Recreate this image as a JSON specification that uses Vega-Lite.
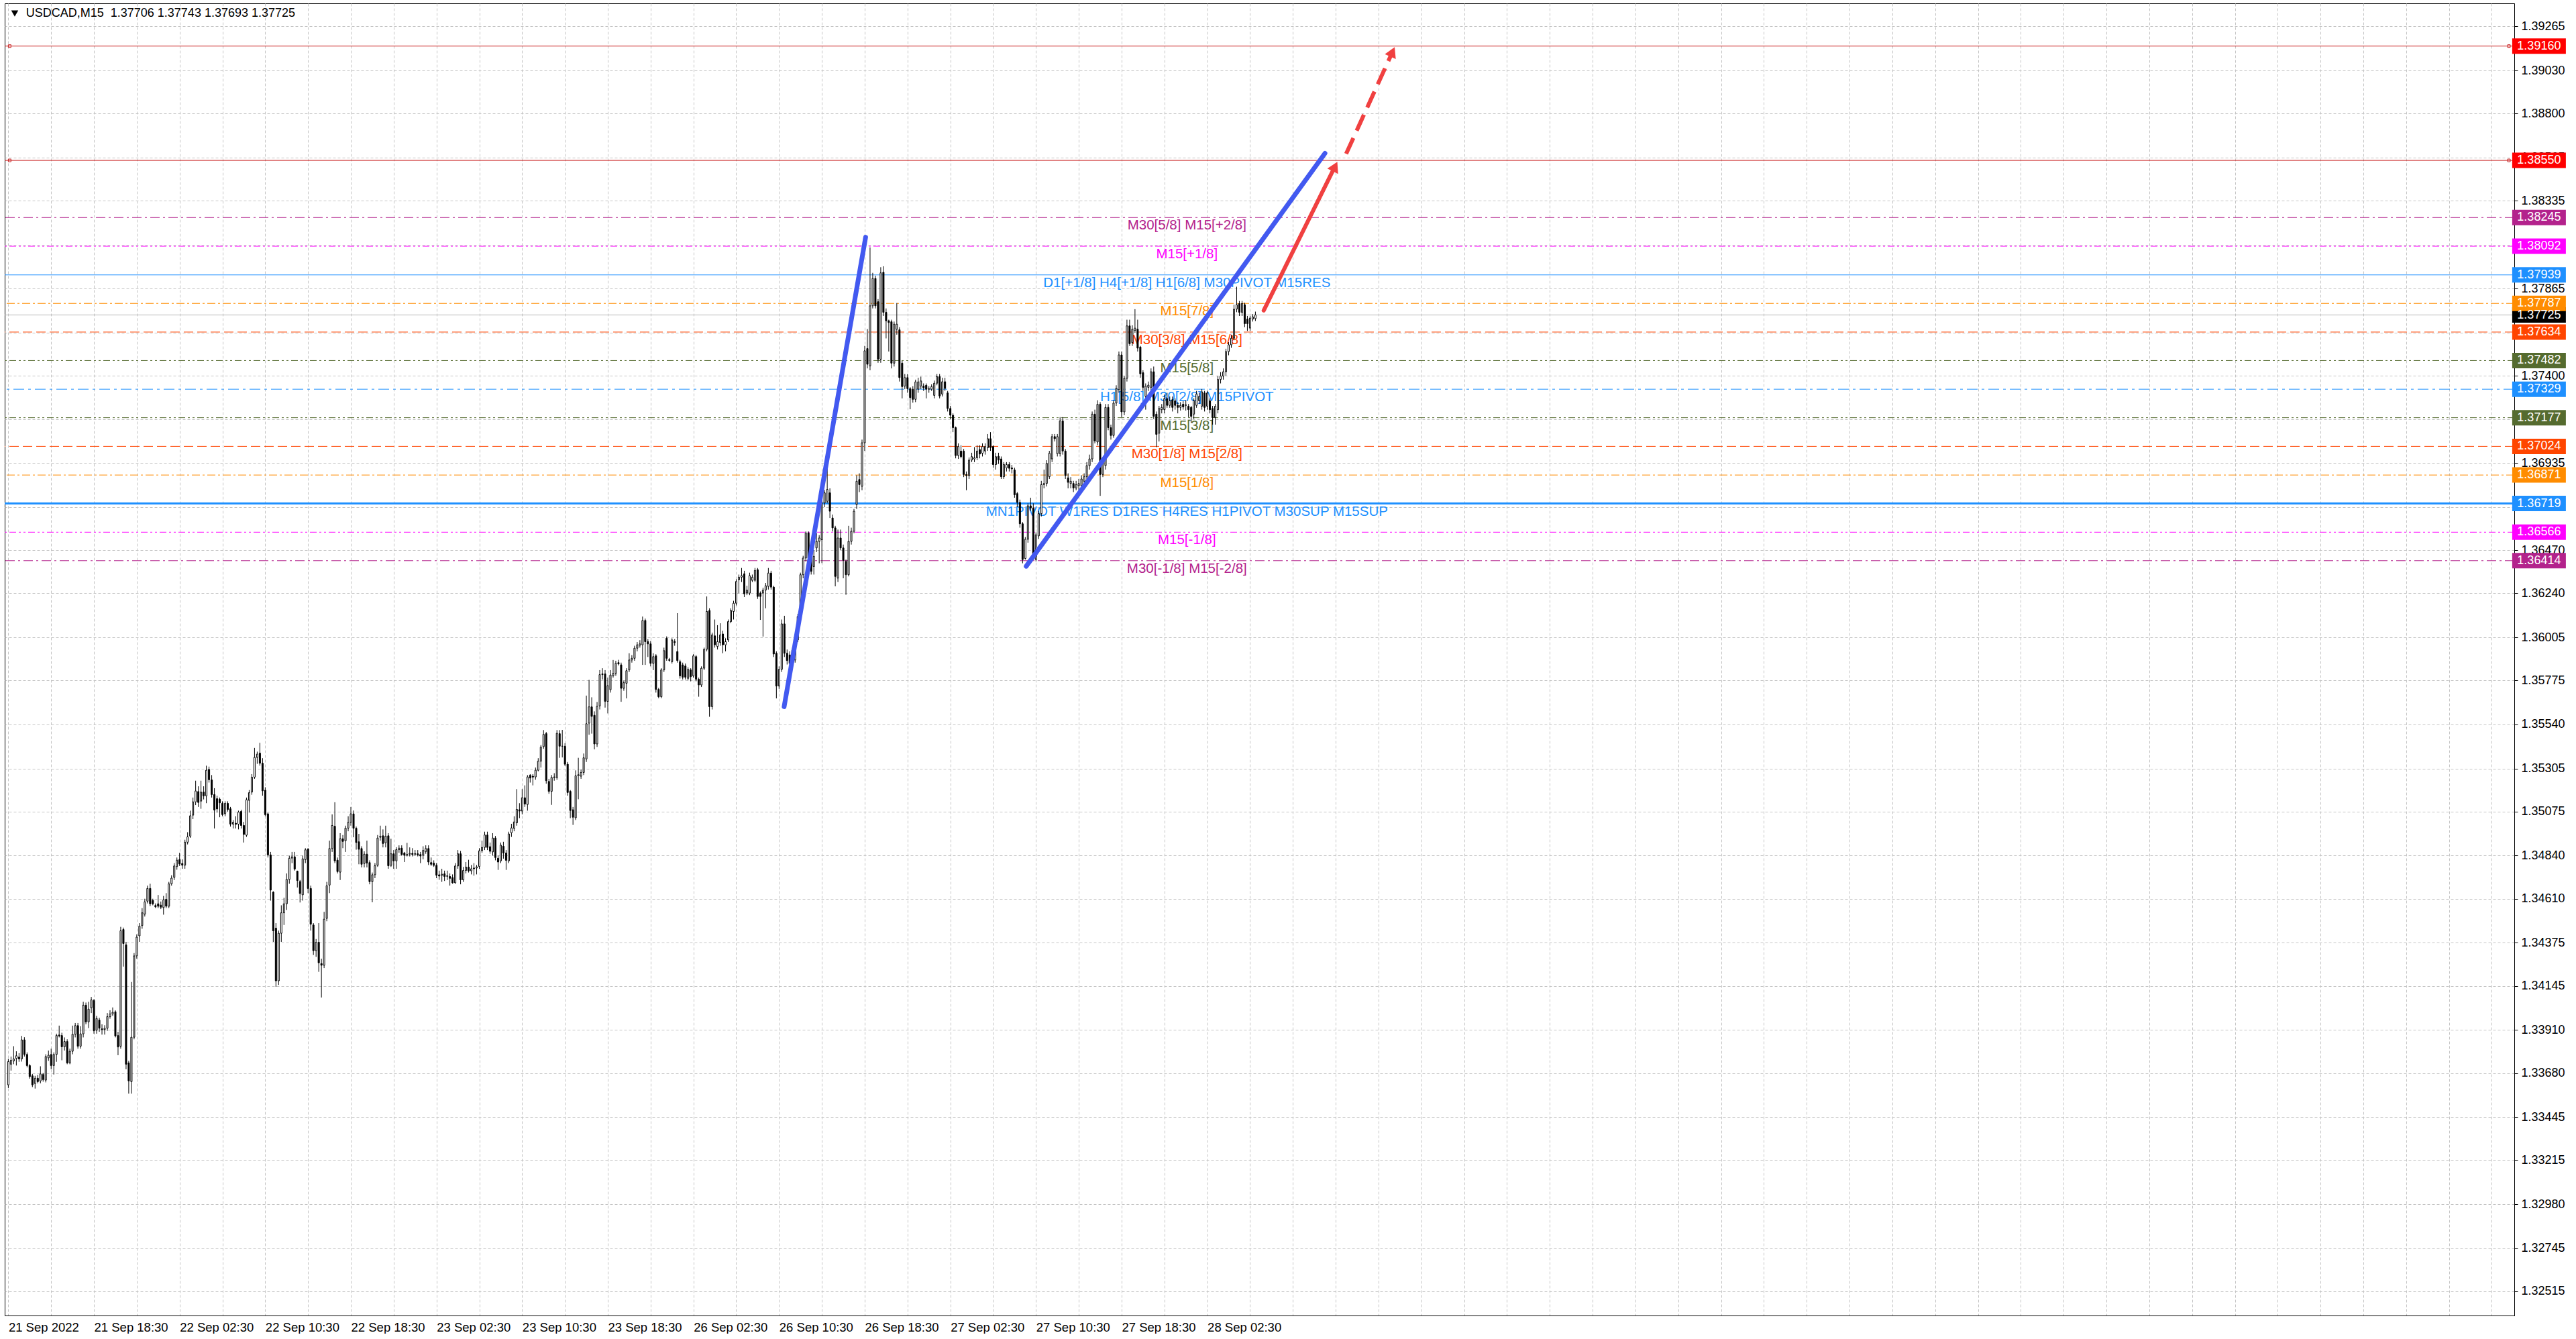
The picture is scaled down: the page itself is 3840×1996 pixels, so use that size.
{
"$schema":"https://vega.github.io/schema/vega-lite/v6.json",
"width":3741,"height":1956,
"padding":{"left":5,"top":5,"right":0,"bottom":0},
"background":"#ffffff",
"config":{"font":"Liberation Sans","view":{"stroke":"#000000","strokeWidth":1}},
"datasets":{
"levels":[
{"p":1.39160,"band":"target","label":""},
{"p":1.38550,"band":"target","label":""},
{"p":1.38245,"band":"outer2","label":"M30[5/8] M15[+2/8]"},
{"p":1.38092,"band":"outer1","label":"M15[+1/8]"},
{"p":1.37939,"band":"limit","label":"D1[+1/8] H4[+1/8] H1[6/8] M30PIVOT M15RES"},
{"p":1.37725,"band":"last","label":""},
{"p":1.37787,"band":"weak","label":"M15[7/8]"},
{"p":1.37634,"band":"reverse","label":"M30[3/8] M15[6/8]"},
{"p":1.37482,"band":"mid","label":"M15[5/8]"},
{"p":1.37329,"band":"pivot","label":"H1[5/8] M30[2/8] M15PIVOT"},
{"p":1.37177,"band":"mid","label":"M15[3/8]"},
{"p":1.37024,"band":"reverse","label":"M30[1/8] M15[2/8]"},
{"p":1.36871,"band":"weak","label":"M15[1/8]"},
{"p":1.36719,"band":"limit","label":"MN1PIVOT W1RES D1RES H4RES H1PIVOT M30SUP M15SUP"},
{"p":1.36566,"band":"outer1","label":"M15[-1/8]"},
{"p":1.36414,"band":"outer2","label":"M30[-1/8] M15[-2/8]"}
],
"trend":[{"seg":"A","i":289.9,"p":1.35635},{"seg":"A","i":320.35,"p":1.3814},{"seg":"B","i":380.35,"p":1.36384},{"seg":"B","i":492.0,"p":1.38588}],
"arrows":[{"seg":"solid","i":469.1,"p":1.37749},{"seg":"solid","i":495.5,"p":1.38511},{"seg":"dash","i":499.9,"p":1.38585},{"seg":"dash","i":517.0,"p":1.39122}],
"heads":[{"seg":"solid","i":495.74,"p":1.38517},{"seg":"dash","i":517.22,"p":1.39129}],
"header":[{"i":6.6,"ti":2.4,"p":1.39334,"label":"USDCAD,M15\u00a0 1.37706 1.37743 1.37693 1.37725"}],
"candles":[
{"i":0,"o":1.33617,"h":1.33755,"l":1.33600,"c":1.33741},
{"i":1,"o":1.33727,"h":1.33768,"l":1.33693,"c":1.33748},
{"i":2,"o":1.33744,"h":1.33823,"l":1.33727,"c":1.33755},
{"i":3,"o":1.33758,"h":1.33796,"l":1.33720,"c":1.33772},
{"i":4,"o":1.33765,"h":1.33786,"l":1.33740,"c":1.33755},
{"i":5,"o":1.33755,"h":1.33878,"l":1.33741,"c":1.33857},
{"i":6,"o":1.33857,"h":1.33871,"l":1.33768,"c":1.33779},
{"i":7,"o":1.33779,"h":1.33790,"l":1.33710,"c":1.33720},
{"i":8,"o":1.33720,"h":1.33727,"l":1.33650,"c":1.33661},
{"i":9,"o":1.33665,"h":1.33675,"l":1.33605,"c":1.33617},
{"i":10,"o":1.33624,"h":1.33665,"l":1.33597,"c":1.33652},
{"i":11,"o":1.33652,"h":1.33670,"l":1.33625,"c":1.33634},
{"i":12,"o":1.33638,"h":1.33716,"l":1.33625,"c":1.33675},
{"i":13,"o":1.33672,"h":1.33680,"l":1.33634,"c":1.33645},
{"i":14,"o":1.33642,"h":1.33780,"l":1.33630,"c":1.33768},
{"i":15,"o":1.33761,"h":1.33800,"l":1.33745,"c":1.33775},
{"i":16,"o":1.33779,"h":1.33810,"l":1.33700,"c":1.33720},
{"i":17,"o":1.33720,"h":1.33790,"l":1.33672,"c":1.33779},
{"i":18,"o":1.33779,"h":1.33890,"l":1.33740,"c":1.33880},
{"i":19,"o":1.33883,"h":1.33933,"l":1.33870,"c":1.33878},
{"i":20,"o":1.33880,"h":1.33895,"l":1.33748,"c":1.33820},
{"i":21,"o":1.33820,"h":1.33870,"l":1.33800,"c":1.33848},
{"i":22,"o":1.33848,"h":1.33860,"l":1.33727,"c":1.33734},
{"i":23,"o":1.33734,"h":1.33810,"l":1.33727,"c":1.33796},
{"i":24,"o":1.33796,"h":1.33933,"l":1.33780,"c":1.33887},
{"i":25,"o":1.33887,"h":1.33947,"l":1.33870,"c":1.33933},
{"i":26,"o":1.33933,"h":1.33947,"l":1.33810,"c":1.33823},
{"i":27,"o":1.33823,"h":1.33930,"l":1.33810,"c":1.33889},
{"i":28,"o":1.33889,"h":1.34060,"l":1.33870,"c":1.34042},
{"i":29,"o":1.34042,"h":1.34056,"l":1.33940,"c":1.33953},
{"i":30,"o":1.33953,"h":1.34060,"l":1.33920,"c":1.34021},
{"i":31,"o":1.34028,"h":1.34086,"l":1.34000,"c":1.34070},
{"i":32,"o":1.34067,"h":1.34075,"l":1.33890,"c":1.33905},
{"i":33,"o":1.33908,"h":1.33985,"l":1.33890,"c":1.33971},
{"i":34,"o":1.33963,"h":1.33975,"l":1.33900,"c":1.33919},
{"i":35,"o":1.33916,"h":1.33940,"l":1.33885,"c":1.33911},
{"i":36,"o":1.33912,"h":1.33935,"l":1.33885,"c":1.33919},
{"i":37,"o":1.33919,"h":1.34000,"l":1.33905,"c":1.33981},
{"i":38,"o":1.33981,"h":1.34015,"l":1.33970,"c":1.33995},
{"i":39,"o":1.33995,"h":1.34030,"l":1.33985,"c":1.34004},
{"i":40,"o":1.34007,"h":1.34015,"l":1.33870,"c":1.33878},
{"i":41,"o":1.33880,"h":1.33900,"l":1.33775,"c":1.33819},
{"i":42,"o":1.33823,"h":1.34460,"l":1.33810,"c":1.34439},
{"i":43,"o":1.34446,"h":1.34456,"l":1.34248,"c":1.34371},
{"i":44,"o":1.34364,"h":1.34380,"l":1.33700,"c":1.33727},
{"i":45,"o":1.33734,"h":1.33745,"l":1.33570,"c":1.33638},
{"i":46,"o":1.33634,"h":1.34166,"l":1.33570,"c":1.33871},
{"i":47,"o":1.33871,"h":1.34320,"l":1.33860,"c":1.34305},
{"i":48,"o":1.34305,"h":1.34420,"l":1.34290,"c":1.34405},
{"i":49,"o":1.34412,"h":1.34480,"l":1.34380,"c":1.34464},
{"i":50,"o":1.34467,"h":1.34560,"l":1.34450,"c":1.34535},
{"i":51,"o":1.34528,"h":1.34610,"l":1.34515,"c":1.34593},
{"i":52,"o":1.34597,"h":1.34680,"l":1.34585,"c":1.34665},
{"i":53,"o":1.34665,"h":1.34690,"l":1.34570,"c":1.34583},
{"i":54,"o":1.34601,"h":1.34610,"l":1.34575,"c":1.34583},
{"i":55,"o":1.34574,"h":1.34585,"l":1.34560,"c":1.34567},
{"i":56,"o":1.34583,"h":1.34630,"l":1.34560,"c":1.34570},
{"i":57,"o":1.34576,"h":1.34595,"l":1.34555,"c":1.34565},
{"i":58,"o":1.34563,"h":1.34625,"l":1.34525,"c":1.34604},
{"i":59,"o":1.34607,"h":1.34640,"l":1.34560,"c":1.34570},
{"i":60,"o":1.34570,"h":1.34700,"l":1.34560,"c":1.34689},
{"i":61,"o":1.34690,"h":1.34735,"l":1.34680,"c":1.34720},
{"i":62,"o":1.34724,"h":1.34800,"l":1.34710,"c":1.34785},
{"i":63,"o":1.34782,"h":1.34830,"l":1.34765,"c":1.34816},
{"i":64,"o":1.34819,"h":1.34855,"l":1.34785,"c":1.34796},
{"i":65,"o":1.34798,"h":1.34820,"l":1.34770,"c":1.34789},
{"i":66,"o":1.34789,"h":1.34925,"l":1.34770,"c":1.34912},
{"i":67,"o":1.34912,"h":1.34965,"l":1.34900,"c":1.34940},
{"i":68,"o":1.34944,"h":1.35080,"l":1.34935,"c":1.35053},
{"i":69,"o":1.35056,"h":1.35150,"l":1.35035,"c":1.35127},
{"i":70,"o":1.35127,"h":1.35240,"l":1.35110,"c":1.35185},
{"i":71,"o":1.35182,"h":1.35210,"l":1.35100,"c":1.35124},
{"i":72,"o":1.35131,"h":1.35240,"l":1.35090,"c":1.35179},
{"i":73,"o":1.35179,"h":1.35210,"l":1.35140,"c":1.35159},
{"i":74,"o":1.35159,"h":1.35320,"l":1.35120,"c":1.35296},
{"i":75,"o":1.35300,"h":1.35315,"l":1.35230,"c":1.35245},
{"i":76,"o":1.35244,"h":1.35270,"l":1.35150,"c":1.35166},
{"i":77,"o":1.35166,"h":1.35200,"l":1.34985,"c":1.35083},
{"i":78,"o":1.35144,"h":1.35160,"l":1.35070,"c":1.35089},
{"i":79,"o":1.35141,"h":1.35150,"l":1.35045,"c":1.35122},
{"i":80,"o":1.35119,"h":1.35130,"l":1.35050,"c":1.35059},
{"i":81,"o":1.35063,"h":1.35130,"l":1.35050,"c":1.35119},
{"i":82,"o":1.35119,"h":1.35130,"l":1.35075,"c":1.35086},
{"i":83,"o":1.35090,"h":1.35100,"l":1.34995,"c":1.35008},
{"i":84,"o":1.35008,"h":1.35030,"l":1.34985,"c":1.35018},
{"i":85,"o":1.35013,"h":1.35050,"l":1.34985,"c":1.35007},
{"i":86,"o":1.35008,"h":1.35080,"l":1.34980,"c":1.35072},
{"i":87,"o":1.35076,"h":1.35085,"l":1.34985,"c":1.35001},
{"i":88,"o":1.35001,"h":1.35020,"l":1.34910,"c":1.34953},
{"i":89,"o":1.34949,"h":1.35150,"l":1.34940,"c":1.35138},
{"i":90,"o":1.35135,"h":1.35190,"l":1.35070,"c":1.35176},
{"i":91,"o":1.35179,"h":1.35275,"l":1.35165,"c":1.35259},
{"i":92,"o":1.35259,"h":1.35415,"l":1.35250,"c":1.35364},
{"i":93,"o":1.35364,"h":1.35395,"l":1.35330,"c":1.35382},
{"i":94,"o":1.35387,"h":1.35442,"l":1.35320,"c":1.35333},
{"i":95,"o":1.35333,"h":1.35360,"l":1.35160,"c":1.35186},
{"i":96,"o":1.35189,"h":1.35205,"l":1.35050,"c":1.35059},
{"i":97,"o":1.35063,"h":1.35070,"l":1.34830,"c":1.34844},
{"i":98,"o":1.34844,"h":1.34860,"l":1.34600,"c":1.34656},
{"i":99,"o":1.34645,"h":1.34650,"l":1.34380,"c":1.34439},
{"i":100,"o":1.34453,"h":1.34480,"l":1.34140,"c":1.34172},
{"i":101,"o":1.34172,"h":1.34440,"l":1.34150,"c":1.34426},
{"i":102,"o":1.34426,"h":1.34575,"l":1.34380,"c":1.34535},
{"i":103,"o":1.34535,"h":1.34615,"l":1.34470,"c":1.34583},
{"i":104,"o":1.34583,"h":1.34745,"l":1.34550,"c":1.34713},
{"i":105,"o":1.34713,"h":1.34840,"l":1.34690,"c":1.34826},
{"i":106,"o":1.34827,"h":1.34860,"l":1.34800,"c":1.34834},
{"i":107,"o":1.34834,"h":1.34860,"l":1.34760,"c":1.34768},
{"i":108,"o":1.34757,"h":1.34760,"l":1.34670,"c":1.34707},
{"i":109,"o":1.34702,"h":1.34710,"l":1.34590,"c":1.34638},
{"i":110,"o":1.34631,"h":1.34840,"l":1.34600,"c":1.34823},
{"i":111,"o":1.34819,"h":1.34880,"l":1.34800,"c":1.34871},
{"i":112,"o":1.34875,"h":1.34880,"l":1.34640,"c":1.34665},
{"i":113,"o":1.34665,"h":1.34680,"l":1.34440,"c":1.34474},
{"i":114,"o":1.34470,"h":1.34480,"l":1.34310,"c":1.34333},
{"i":115,"o":1.34333,"h":1.34395,"l":1.34300,"c":1.34378},
{"i":116,"o":1.34378,"h":1.34480,"l":1.34220,"c":1.34268},
{"i":117,"o":1.34264,"h":1.34290,"l":1.34083,"c":1.34255},
{"i":118,"o":1.34255,"h":1.34540,"l":1.34240,"c":1.34501},
{"i":119,"o":1.34505,"h":1.34700,"l":1.34490,"c":1.34679},
{"i":120,"o":1.34683,"h":1.34920,"l":1.34640,"c":1.34878},
{"i":121,"o":1.34878,"h":1.35060,"l":1.34860,"c":1.35001},
{"i":122,"o":1.34997,"h":1.35125,"l":1.34800,"c":1.34812},
{"i":123,"o":1.34816,"h":1.34830,"l":1.34745,"c":1.34755},
{"i":124,"o":1.34752,"h":1.34960,"l":1.34710,"c":1.34930},
{"i":125,"o":1.34930,"h":1.34950,"l":1.34880,"c":1.34916},
{"i":126,"o":1.34919,"h":1.35000,"l":1.34860,"c":1.34987},
{"i":127,"o":1.34987,"h":1.35050,"l":1.34970,"c":1.35018},
{"i":128,"o":1.35018,"h":1.35100,"l":1.35000,"c":1.35063},
{"i":129,"o":1.35063,"h":1.35081,"l":1.34938,"c":1.34986},
{"i":130,"o":1.34986,"h":1.34995,"l":1.34872,"c":1.34910},
{"i":131,"o":1.34914,"h":1.34956,"l":1.34794,"c":1.34874},
{"i":132,"o":1.34878,"h":1.34890,"l":1.34777,"c":1.34794},
{"i":133,"o":1.34798,"h":1.34863,"l":1.34777,"c":1.34848},
{"i":134,"o":1.34848,"h":1.34920,"l":1.34777,"c":1.34800},
{"i":135,"o":1.34803,"h":1.34815,"l":1.34687,"c":1.34701},
{"i":136,"o":1.34701,"h":1.34750,"l":1.34591,"c":1.34738},
{"i":137,"o":1.34738,"h":1.34800,"l":1.34720,"c":1.34786},
{"i":138,"o":1.34788,"h":1.34950,"l":1.34780,"c":1.34934},
{"i":139,"o":1.34938,"h":1.35000,"l":1.34920,"c":1.34944},
{"i":140,"o":1.34946,"h":1.34980,"l":1.34884,"c":1.34905},
{"i":141,"o":1.34908,"h":1.35000,"l":1.34884,"c":1.34944},
{"i":142,"o":1.34946,"h":1.34960,"l":1.34770,"c":1.34786},
{"i":143,"o":1.34788,"h":1.34930,"l":1.34780,"c":1.34850},
{"i":144,"o":1.34850,"h":1.34870,"l":1.34770,"c":1.34812},
{"i":145,"o":1.34812,"h":1.34885,"l":1.34770,"c":1.34872},
{"i":146,"o":1.34872,"h":1.34895,"l":1.34855,"c":1.34880},
{"i":147,"o":1.34880,"h":1.34895,"l":1.34840,"c":1.34846},
{"i":148,"o":1.34854,"h":1.34860,"l":1.34806,"c":1.34842},
{"i":149,"o":1.34846,"h":1.34908,"l":1.34836,"c":1.34842},
{"i":150,"o":1.34848,"h":1.34884,"l":1.34836,"c":1.34852},
{"i":151,"o":1.34852,"h":1.34880,"l":1.34836,"c":1.34846},
{"i":152,"o":1.34850,"h":1.34870,"l":1.34840,"c":1.34848},
{"i":153,"o":1.34850,"h":1.34870,"l":1.34836,"c":1.34844},
{"i":154,"o":1.34846,"h":1.34860,"l":1.34800,"c":1.34838},
{"i":155,"o":1.34842,"h":1.34890,"l":1.34820,"c":1.34868},
{"i":156,"o":1.34862,"h":1.34895,"l":1.34850,"c":1.34878},
{"i":157,"o":1.34878,"h":1.34895,"l":1.34790,"c":1.34806},
{"i":158,"o":1.34803,"h":1.34830,"l":1.34785,"c":1.34794},
{"i":159,"o":1.34800,"h":1.34815,"l":1.34780,"c":1.34788},
{"i":160,"o":1.34788,"h":1.34800,"l":1.34720,"c":1.34735},
{"i":161,"o":1.34738,"h":1.34760,"l":1.34711,"c":1.34731},
{"i":162,"o":1.34735,"h":1.34770,"l":1.34700,"c":1.34741},
{"i":163,"o":1.34743,"h":1.34760,"l":1.34705,"c":1.34729},
{"i":164,"o":1.34732,"h":1.34760,"l":1.34710,"c":1.34730},
{"i":165,"o":1.34729,"h":1.34745,"l":1.34680,"c":1.34719},
{"i":166,"o":1.34723,"h":1.34740,"l":1.34690,"c":1.34695},
{"i":167,"o":1.34695,"h":1.34800,"l":1.34690,"c":1.34785},
{"i":168,"o":1.34785,"h":1.34870,"l":1.34770,"c":1.34850},
{"i":169,"o":1.34850,"h":1.34865,"l":1.34687,"c":1.34711},
{"i":170,"o":1.34711,"h":1.34780,"l":1.34700,"c":1.34761},
{"i":171,"o":1.34761,"h":1.34806,"l":1.34745,"c":1.34779},
{"i":172,"o":1.34779,"h":1.34818,"l":1.34750,"c":1.34759},
{"i":173,"o":1.34759,"h":1.34790,"l":1.34740,"c":1.34770},
{"i":174,"o":1.34774,"h":1.34800,"l":1.34733,"c":1.34770},
{"i":175,"o":1.34774,"h":1.34790,"l":1.34740,"c":1.34780},
{"i":176,"o":1.34782,"h":1.34880,"l":1.34770,"c":1.34866},
{"i":177,"o":1.34866,"h":1.34920,"l":1.34855,"c":1.34884},
{"i":178,"o":1.34884,"h":1.34968,"l":1.34870,"c":1.34950},
{"i":179,"o":1.34950,"h":1.34968,"l":1.34870,"c":1.34884},
{"i":180,"o":1.34888,"h":1.34910,"l":1.34850,"c":1.34863},
{"i":181,"o":1.34860,"h":1.34960,"l":1.34840,"c":1.34934},
{"i":182,"o":1.34934,"h":1.34945,"l":1.34815,"c":1.34830},
{"i":183,"o":1.34826,"h":1.34840,"l":1.34764,"c":1.34806},
{"i":184,"o":1.34812,"h":1.34910,"l":1.34800,"c":1.34896},
{"i":185,"o":1.34890,"h":1.34914,"l":1.34824,"c":1.34854},
{"i":186,"o":1.34854,"h":1.34870,"l":1.34764,"c":1.34815},
{"i":187,"o":1.34812,"h":1.34968,"l":1.34800,"c":1.34956},
{"i":188,"o":1.34962,"h":1.35010,"l":1.34940,"c":1.34988},
{"i":189,"o":1.34986,"h":1.35050,"l":1.34970,"c":1.35020},
{"i":190,"o":1.35015,"h":1.35195,"l":1.35000,"c":1.35087},
{"i":191,"o":1.35085,"h":1.35120,"l":1.35040,"c":1.35078},
{"i":192,"o":1.35078,"h":1.35195,"l":1.35060,"c":1.35149},
{"i":193,"o":1.35149,"h":1.35215,"l":1.35100,"c":1.35115},
{"i":194,"o":1.35113,"h":1.35270,"l":1.35080,"c":1.35260},
{"i":195,"o":1.35269,"h":1.35275,"l":1.35230,"c":1.35254},
{"i":196,"o":1.35264,"h":1.35275,"l":1.35215,"c":1.35259},
{"i":197,"o":1.35260,"h":1.35310,"l":1.35245,"c":1.35296},
{"i":198,"o":1.35296,"h":1.35360,"l":1.35290,"c":1.35344},
{"i":199,"o":1.35344,"h":1.35430,"l":1.35310,"c":1.35419},
{"i":200,"o":1.35422,"h":1.35510,"l":1.35410,"c":1.35487},
{"i":201,"o":1.35491,"h":1.35500,"l":1.35224,"c":1.35240},
{"i":202,"o":1.35236,"h":1.35250,"l":1.35170,"c":1.35183},
{"i":203,"o":1.35183,"h":1.35270,"l":1.35111,"c":1.35257},
{"i":204,"o":1.35256,"h":1.35280,"l":1.35240,"c":1.35260},
{"i":205,"o":1.35257,"h":1.35510,"l":1.35245,"c":1.35493},
{"i":206,"o":1.35491,"h":1.35510,"l":1.35362,"c":1.35424},
{"i":207,"o":1.35424,"h":1.35511,"l":1.35364,"c":1.35424},
{"i":208,"o":1.35424,"h":1.35440,"l":1.35318,"c":1.35328},
{"i":209,"o":1.35328,"h":1.35340,"l":1.35160,"c":1.35177},
{"i":210,"o":1.35183,"h":1.35190,"l":1.35040,"c":1.35081},
{"i":211,"o":1.35085,"h":1.35100,"l":1.35004,"c":1.35045},
{"i":212,"o":1.35042,"h":1.35295,"l":1.35030,"c":1.35266},
{"i":213,"o":1.35266,"h":1.35362,"l":1.35141,"c":1.35272},
{"i":214,"o":1.35264,"h":1.35300,"l":1.35250,"c":1.35284},
{"i":215,"o":1.35284,"h":1.35385,"l":1.35270,"c":1.35362},
{"i":216,"o":1.35356,"h":1.35694,"l":1.35340,"c":1.35544},
{"i":217,"o":1.35547,"h":1.35778,"l":1.35485,"c":1.35634},
{"i":218,"o":1.35634,"h":1.35685,"l":1.35491,"c":1.35583},
{"i":219,"o":1.35589,"h":1.35610,"l":1.35407,"c":1.35436},
{"i":220,"o":1.35436,"h":1.35660,"l":1.35420,"c":1.35637},
{"i":221,"o":1.35639,"h":1.35830,"l":1.35620,"c":1.35806},
{"i":222,"o":1.35810,"h":1.35840,"l":1.35780,"c":1.35806},
{"i":223,"o":1.35810,"h":1.35830,"l":1.35630,"c":1.35663},
{"i":224,"o":1.35663,"h":1.35790,"l":1.35599,"c":1.35747},
{"i":225,"o":1.35725,"h":1.35830,"l":1.35710,"c":1.35804},
{"i":226,"o":1.35799,"h":1.35884,"l":1.35790,"c":1.35813},
{"i":227,"o":1.35813,"h":1.35880,"l":1.35800,"c":1.35867},
{"i":228,"o":1.35870,"h":1.35885,"l":1.35855,"c":1.35863},
{"i":229,"o":1.35858,"h":1.35870,"l":1.35661,"c":1.35733},
{"i":230,"o":1.35733,"h":1.35775,"l":1.35720,"c":1.35763},
{"i":231,"o":1.35760,"h":1.35840,"l":1.35679,"c":1.35827},
{"i":232,"o":1.35831,"h":1.35920,"l":1.35820,"c":1.35884},
{"i":233,"o":1.35884,"h":1.35910,"l":1.35870,"c":1.35893},
{"i":234,"o":1.35893,"h":1.35960,"l":1.35880,"c":1.35947},
{"i":235,"o":1.35947,"h":1.35980,"l":1.35930,"c":1.35965},
{"i":236,"o":1.35963,"h":1.35990,"l":1.35950,"c":1.35970},
{"i":237,"o":1.35965,"h":1.36116,"l":1.35858,"c":1.36095},
{"i":238,"o":1.36095,"h":1.36105,"l":1.35858,"c":1.35982},
{"i":239,"o":1.35982,"h":1.35995,"l":1.35900,"c":1.35970},
{"i":240,"o":1.35970,"h":1.35985,"l":1.35850,"c":1.35866},
{"i":241,"o":1.35866,"h":1.35920,"l":1.35830,"c":1.35902},
{"i":242,"o":1.35906,"h":1.35915,"l":1.35710,"c":1.35727},
{"i":243,"o":1.35727,"h":1.35735,"l":1.35680,"c":1.35688},
{"i":244,"o":1.35688,"h":1.35840,"l":1.35680,"c":1.35831},
{"i":245,"o":1.35831,"h":1.35950,"l":1.35820,"c":1.35934},
{"i":246,"o":1.36000,"h":1.36010,"l":1.35880,"c":1.35893},
{"i":247,"o":1.35886,"h":1.35895,"l":1.35875,"c":1.35882},
{"i":248,"o":1.35875,"h":1.36000,"l":1.35865,"c":1.35991},
{"i":249,"o":1.35982,"h":1.35995,"l":1.35960,"c":1.35977},
{"i":250,"o":1.35929,"h":1.36134,"l":1.35870,"c":1.35881},
{"i":251,"o":1.35875,"h":1.35885,"l":1.35785,"c":1.35799},
{"i":252,"o":1.35858,"h":1.35870,"l":1.35780,"c":1.35792},
{"i":253,"o":1.35852,"h":1.35865,"l":1.35780,"c":1.35792},
{"i":254,"o":1.35786,"h":1.35845,"l":1.35775,"c":1.35834},
{"i":255,"o":1.35831,"h":1.35840,"l":1.35770,"c":1.35795},
{"i":256,"o":1.35799,"h":1.35915,"l":1.35790,"c":1.35906},
{"i":257,"o":1.35902,"h":1.35910,"l":1.35770,"c":1.35781},
{"i":258,"o":1.35781,"h":1.35790,"l":1.35688,"c":1.35751},
{"i":259,"o":1.35751,"h":1.35850,"l":1.35740,"c":1.35840},
{"i":260,"o":1.35840,"h":1.35950,"l":1.35830,"c":1.35941},
{"i":261,"o":1.35941,"h":1.36223,"l":1.35930,"c":1.36143},
{"i":262,"o":1.36148,"h":1.36160,"l":1.35581,"c":1.35635},
{"i":263,"o":1.35635,"h":1.36030,"l":1.35620,"c":1.36018},
{"i":264,"o":1.36013,"h":1.36100,"l":1.35950,"c":1.35965},
{"i":265,"o":1.35956,"h":1.36070,"l":1.35940,"c":1.35982},
{"i":266,"o":1.35977,"h":1.36080,"l":1.35960,"c":1.36018},
{"i":267,"o":1.36023,"h":1.36040,"l":1.35920,"c":1.35965},
{"i":268,"o":1.35965,"h":1.36000,"l":1.35930,"c":1.35982},
{"i":269,"o":1.35991,"h":1.36100,"l":1.35980,"c":1.36089},
{"i":270,"o":1.36089,"h":1.36160,"l":1.36080,"c":1.36148},
{"i":271,"o":1.36143,"h":1.36200,"l":1.36100,"c":1.36187},
{"i":272,"o":1.36187,"h":1.36315,"l":1.36175,"c":1.36303},
{"i":273,"o":1.36312,"h":1.36340,"l":1.36240,"c":1.36326},
{"i":274,"o":1.36326,"h":1.36375,"l":1.36300,"c":1.36334},
{"i":275,"o":1.36344,"h":1.36360,"l":1.36220,"c":1.36237},
{"i":276,"o":1.36241,"h":1.36280,"l":1.36230,"c":1.36257},
{"i":277,"o":1.36241,"h":1.36350,"l":1.36230,"c":1.36334},
{"i":278,"o":1.36309,"h":1.36340,"l":1.36300,"c":1.36326},
{"i":279,"o":1.36309,"h":1.36375,"l":1.36300,"c":1.36362},
{"i":280,"o":1.36366,"h":1.36375,"l":1.36210,"c":1.36223},
{"i":281,"o":1.36241,"h":1.36250,"l":1.36098,"c":1.36223},
{"i":282,"o":1.36241,"h":1.36270,"l":1.36009,"c":1.36257},
{"i":283,"o":1.36257,"h":1.36295,"l":1.36160,"c":1.36280},
{"i":284,"o":1.36277,"h":1.36375,"l":1.36260,"c":1.36348},
{"i":285,"o":1.36348,"h":1.36360,"l":1.36260,"c":1.36273},
{"i":286,"o":1.36273,"h":1.36280,"l":1.35900,"c":1.35916},
{"i":287,"o":1.35920,"h":1.35930,"l":1.35679,"c":1.35745},
{"i":288,"o":1.35745,"h":1.35850,"l":1.35730,"c":1.35834},
{"i":289,"o":1.35834,"h":1.36100,"l":1.35820,"c":1.36077},
{"i":290,"o":1.36077,"h":1.36120,"l":1.35900,"c":1.35920},
{"i":291,"o":1.35920,"h":1.35940,"l":1.35860,"c":1.35881},
{"i":292,"o":1.35911,"h":1.35930,"l":1.35840,"c":1.35866},
{"i":293,"o":1.35866,"h":1.35950,"l":1.35850,"c":1.35938},
{"i":294,"o":1.35884,"h":1.36010,"l":1.35870,"c":1.36000},
{"i":295,"o":1.35991,"h":1.36130,"l":1.35980,"c":1.36116},
{"i":296,"o":1.36116,"h":1.36350,"l":1.36100,"c":1.36339},
{"i":297,"o":1.36339,"h":1.36440,"l":1.36320,"c":1.36428},
{"i":298,"o":1.36428,"h":1.36570,"l":1.36410,"c":1.36562},
{"i":299,"o":1.36562,"h":1.36570,"l":1.36410,"c":1.36428},
{"i":300,"o":1.36428,"h":1.36440,"l":1.36340,"c":1.36357},
{"i":301,"o":1.36383,"h":1.36470,"l":1.36340,"c":1.36437},
{"i":302,"o":1.36482,"h":1.36560,"l":1.36460,"c":1.36517},
{"i":303,"o":1.36517,"h":1.36550,"l":1.36400,"c":1.36535},
{"i":304,"o":1.36526,"h":1.36740,"l":1.36401,"c":1.36722},
{"i":305,"o":1.36722,"h":1.36790,"l":1.36700,"c":1.36776},
{"i":306,"o":1.36731,"h":1.36954,"l":1.36720,"c":1.36794},
{"i":307,"o":1.36776,"h":1.36800,"l":1.36642,"c":1.36678},
{"i":308,"o":1.36642,"h":1.36660,"l":1.36570,"c":1.36589},
{"i":309,"o":1.36589,"h":1.36600,"l":1.36277,"c":1.36330},
{"i":310,"o":1.36321,"h":1.36580,"l":1.36300,"c":1.36535},
{"i":311,"o":1.36535,"h":1.36580,"l":1.36470,"c":1.36482},
{"i":312,"o":1.36482,"h":1.36500,"l":1.36320,"c":1.36416},
{"i":313,"o":1.36410,"h":1.36420,"l":1.36232,"c":1.36339},
{"i":314,"o":1.36339,"h":1.36600,"l":1.36330,"c":1.36517},
{"i":315,"o":1.36517,"h":1.36590,"l":1.36500,"c":1.36571},
{"i":316,"o":1.36571,"h":1.36690,"l":1.36560,"c":1.36678},
{"i":317,"o":1.36713,"h":1.36870,"l":1.36690,"c":1.36838},
{"i":318,"o":1.36847,"h":1.36880,"l":1.36780,"c":1.36820},
{"i":319,"o":1.36811,"h":1.37060,"l":1.36790,"c":1.37043},
{"i":320,"o":1.37043,"h":1.37560,"l":1.37000,"c":1.37534},
{"i":321,"o":1.37546,"h":1.37650,"l":1.37440,"c":1.37462},
{"i":322,"o":1.37453,"h":1.38086,"l":1.37430,"c":1.37774},
{"i":323,"o":1.37774,"h":1.37950,"l":1.37760,"c":1.37920},
{"i":324,"o":1.37920,"h":1.37935,"l":1.37760,"c":1.37774},
{"i":325,"o":1.37796,"h":1.37810,"l":1.37470,"c":1.37489},
{"i":326,"o":1.37489,"h":1.37980,"l":1.37470,"c":1.37950},
{"i":327,"o":1.37953,"h":1.37985,"l":1.37720,"c":1.37739},
{"i":328,"o":1.37739,"h":1.37760,"l":1.37600,"c":1.37694},
{"i":329,"o":1.37694,"h":1.37700,"l":1.37530,"c":1.37685},
{"i":330,"o":1.37689,"h":1.37700,"l":1.37440,"c":1.37468},
{"i":331,"o":1.37468,"h":1.37690,"l":1.37450,"c":1.37676},
{"i":332,"o":1.37649,"h":1.37789,"l":1.37620,"c":1.37676},
{"i":333,"o":1.37646,"h":1.37660,"l":1.37370,"c":1.37391},
{"i":334,"o":1.37468,"h":1.37480,"l":1.37280,"c":1.37343},
{"i":335,"o":1.37346,"h":1.37410,"l":1.37330,"c":1.37391},
{"i":336,"o":1.37391,"h":1.37410,"l":1.37310,"c":1.37332},
{"i":337,"o":1.37332,"h":1.37340,"l":1.37222,"c":1.37284},
{"i":338,"o":1.37329,"h":1.37345,"l":1.37257,"c":1.37275},
{"i":339,"o":1.37275,"h":1.37380,"l":1.37260,"c":1.37368},
{"i":340,"o":1.37329,"h":1.37390,"l":1.37310,"c":1.37368},
{"i":341,"o":1.37346,"h":1.37396,"l":1.37330,"c":1.37373},
{"i":342,"o":1.37346,"h":1.37360,"l":1.37320,"c":1.37337},
{"i":343,"o":1.37350,"h":1.37360,"l":1.37280,"c":1.37329},
{"i":344,"o":1.37331,"h":1.37345,"l":1.37310,"c":1.37329},
{"i":345,"o":1.37329,"h":1.37355,"l":1.37320,"c":1.37343},
{"i":346,"o":1.37296,"h":1.37375,"l":1.37280,"c":1.37361},
{"i":347,"o":1.37361,"h":1.37410,"l":1.37350,"c":1.37396},
{"i":348,"o":1.37396,"h":1.37410,"l":1.37280,"c":1.37293},
{"i":349,"o":1.37303,"h":1.37390,"l":1.37290,"c":1.37369},
{"i":350,"o":1.37369,"h":1.37390,"l":1.37320,"c":1.37333},
{"i":351,"o":1.37309,"h":1.37320,"l":1.37210,"c":1.37226},
{"i":352,"o":1.37226,"h":1.37240,"l":1.37170,"c":1.37190},
{"i":353,"o":1.37190,"h":1.37200,"l":1.37100,"c":1.37124},
{"i":354,"o":1.37124,"h":1.37130,"l":1.36960,"c":1.36975},
{"i":355,"o":1.36975,"h":1.37040,"l":1.36957,"c":1.37023},
{"i":356,"o":1.36999,"h":1.37030,"l":1.36960,"c":1.36969},
{"i":357,"o":1.36999,"h":1.37010,"l":1.36860,"c":1.36874},
{"i":358,"o":1.36874,"h":1.36890,"l":1.36790,"c":1.36868},
{"i":359,"o":1.36868,"h":1.36965,"l":1.36850,"c":1.36951},
{"i":360,"o":1.36951,"h":1.36990,"l":1.36940,"c":1.36969},
{"i":361,"o":1.36957,"h":1.37020,"l":1.36940,"c":1.36963},
{"i":362,"o":1.36963,"h":1.37030,"l":1.36950,"c":1.36999},
{"i":363,"o":1.37007,"h":1.37030,"l":1.36960,"c":1.36983},
{"i":364,"o":1.36987,"h":1.37040,"l":1.36970,"c":1.37023},
{"i":365,"o":1.36999,"h":1.37040,"l":1.36980,"c":1.37023},
{"i":366,"o":1.37017,"h":1.37090,"l":1.37000,"c":1.37065},
{"i":367,"o":1.37065,"h":1.37100,"l":1.37000,"c":1.37017},
{"i":368,"o":1.37023,"h":1.37030,"l":1.36910,"c":1.36927},
{"i":369,"o":1.36927,"h":1.36990,"l":1.36900,"c":1.36969},
{"i":370,"o":1.36971,"h":1.36990,"l":1.36930,"c":1.36951},
{"i":371,"o":1.36957,"h":1.36970,"l":1.36850,"c":1.36862},
{"i":372,"o":1.36862,"h":1.36940,"l":1.36850,"c":1.36927},
{"i":373,"o":1.36909,"h":1.36940,"l":1.36890,"c":1.36927},
{"i":374,"o":1.36927,"h":1.36940,"l":1.36890,"c":1.36907},
{"i":375,"o":1.36909,"h":1.36925,"l":1.36880,"c":1.36904},
{"i":376,"o":1.36898,"h":1.36910,"l":1.36750,"c":1.36766},
{"i":377,"o":1.36772,"h":1.36780,"l":1.36700,"c":1.36725},
{"i":378,"o":1.36725,"h":1.36740,"l":1.36590,"c":1.36611},
{"i":379,"o":1.36611,"h":1.36620,"l":1.36400,"c":1.36420},
{"i":380,"o":1.36426,"h":1.36540,"l":1.36420,"c":1.36528},
{"i":381,"o":1.36528,"h":1.36720,"l":1.36510,"c":1.36707},
{"i":382,"o":1.36707,"h":1.36750,"l":1.36680,"c":1.36695},
{"i":383,"o":1.36695,"h":1.36720,"l":1.36420,"c":1.36426},
{"i":384,"o":1.36420,"h":1.36565,"l":1.36410,"c":1.36552},
{"i":385,"o":1.36546,"h":1.36680,"l":1.36530,"c":1.36665},
{"i":386,"o":1.36665,"h":1.36840,"l":1.36650,"c":1.36820},
{"i":387,"o":1.36820,"h":1.36900,"l":1.36800,"c":1.36826},
{"i":388,"o":1.36826,"h":1.36950,"l":1.36810,"c":1.36933},
{"i":389,"o":1.36862,"h":1.37000,"l":1.36850,"c":1.36987},
{"i":390,"o":1.36957,"h":1.37090,"l":1.36940,"c":1.37076},
{"i":391,"o":1.37076,"h":1.37090,"l":1.37050,"c":1.37065},
{"i":392,"o":1.36985,"h":1.37090,"l":1.36970,"c":1.37076},
{"i":393,"o":1.36985,"h":1.37180,"l":1.36970,"c":1.37160},
{"i":394,"o":1.37160,"h":1.37180,"l":1.36980,"c":1.36999},
{"i":395,"o":1.36999,"h":1.37010,"l":1.36850,"c":1.36868},
{"i":396,"o":1.36856,"h":1.36880,"l":1.36800,"c":1.36832},
{"i":397,"o":1.36826,"h":1.36860,"l":1.36800,"c":1.36838},
{"i":398,"o":1.36826,"h":1.36840,"l":1.36780,"c":1.36802},
{"i":399,"o":1.36802,"h":1.36840,"l":1.36790,"c":1.36820},
{"i":400,"o":1.36814,"h":1.36850,"l":1.36790,"c":1.36826},
{"i":401,"o":1.36814,"h":1.36870,"l":1.36800,"c":1.36850},
{"i":402,"o":1.36838,"h":1.36880,"l":1.36820,"c":1.36862},
{"i":403,"o":1.36862,"h":1.36940,"l":1.36850,"c":1.36921},
{"i":404,"o":1.36921,"h":1.36980,"l":1.36900,"c":1.36957},
{"i":405,"o":1.36957,"h":1.37210,"l":1.36940,"c":1.37196},
{"i":406,"o":1.37196,"h":1.37220,"l":1.37040,"c":1.37053},
{"i":407,"o":1.37047,"h":1.37270,"l":1.37030,"c":1.37249},
{"i":408,"o":1.37249,"h":1.37260,"l":1.36760,"c":1.36874},
{"i":409,"o":1.36874,"h":1.36960,"l":1.36860,"c":1.36945},
{"i":410,"o":1.36921,"h":1.37250,"l":1.36900,"c":1.37232},
{"i":411,"o":1.37232,"h":1.37250,"l":1.37110,"c":1.37124},
{"i":412,"o":1.37124,"h":1.37140,"l":1.37060,"c":1.37082},
{"i":413,"o":1.37082,"h":1.37270,"l":1.37070,"c":1.37255},
{"i":414,"o":1.37255,"h":1.37350,"l":1.37240,"c":1.37333},
{"i":415,"o":1.37327,"h":1.37530,"l":1.37310,"c":1.37512},
{"i":416,"o":1.37512,"h":1.37530,"l":1.37180,"c":1.37208},
{"i":417,"o":1.37208,"h":1.37400,"l":1.37190,"c":1.37387},
{"i":418,"o":1.37387,"h":1.37700,"l":1.37370,"c":1.37667},
{"i":419,"o":1.37667,"h":1.37700,"l":1.37560,"c":1.37572},
{"i":420,"o":1.37578,"h":1.37670,"l":1.37560,"c":1.37649},
{"i":421,"o":1.37643,"h":1.37756,"l":1.37630,"c":1.37655},
{"i":422,"o":1.37649,"h":1.37700,"l":1.37530,"c":1.37548},
{"i":423,"o":1.37554,"h":1.37560,"l":1.37390,"c":1.37411},
{"i":424,"o":1.37417,"h":1.37430,"l":1.37320,"c":1.37339},
{"i":425,"o":1.37291,"h":1.37360,"l":1.37220,"c":1.37345},
{"i":426,"o":1.37339,"h":1.37370,"l":1.37320,"c":1.37351},
{"i":427,"o":1.37339,"h":1.37440,"l":1.37320,"c":1.37422},
{"i":428,"o":1.37422,"h":1.37450,"l":1.37170,"c":1.37184},
{"i":429,"o":1.37196,"h":1.37210,"l":1.37020,"c":1.37088},
{"i":430,"o":1.37094,"h":1.37240,"l":1.37050,"c":1.37226},
{"i":431,"o":1.37220,"h":1.37250,"l":1.37200,"c":1.37232},
{"i":432,"o":1.37220,"h":1.37300,"l":1.37200,"c":1.37279},
{"i":433,"o":1.37279,"h":1.37310,"l":1.37230,"c":1.37243},
{"i":434,"o":1.37243,"h":1.37290,"l":1.37230,"c":1.37267},
{"i":435,"o":1.37273,"h":1.37290,"l":1.37210,"c":1.37232},
{"i":436,"o":1.37267,"h":1.37280,"l":1.37220,"c":1.37243},
{"i":437,"o":1.37243,"h":1.37260,"l":1.37200,"c":1.37232},
{"i":438,"o":1.37232,"h":1.37260,"l":1.37215,"c":1.37243},
{"i":439,"o":1.37249,"h":1.37265,"l":1.37220,"c":1.37234},
{"i":440,"o":1.37245,"h":1.37270,"l":1.37215,"c":1.37243},
{"i":441,"o":1.37238,"h":1.37250,"l":1.37180,"c":1.37220},
{"i":442,"o":1.37232,"h":1.37240,"l":1.37150,"c":1.37184},
{"i":443,"o":1.37196,"h":1.37280,"l":1.37170,"c":1.37267},
{"i":444,"o":1.37243,"h":1.37320,"l":1.37230,"c":1.37303},
{"i":445,"o":1.37267,"h":1.37310,"l":1.37250,"c":1.37291},
{"i":446,"o":1.37238,"h":1.37330,"l":1.37220,"c":1.37315},
{"i":447,"o":1.37309,"h":1.37320,"l":1.37210,"c":1.37232},
{"i":448,"o":1.37238,"h":1.37320,"l":1.37220,"c":1.37309},
{"i":449,"o":1.37267,"h":1.37280,"l":1.37200,"c":1.37220},
{"i":450,"o":1.37226,"h":1.37240,"l":1.37140,"c":1.37178},
{"i":451,"o":1.37178,"h":1.37250,"l":1.37140,"c":1.37238},
{"i":452,"o":1.37220,"h":1.37400,"l":1.37200,"c":1.37381},
{"i":453,"o":1.37381,"h":1.37420,"l":1.37360,"c":1.37399},
{"i":454,"o":1.37399,"h":1.37440,"l":1.37380,"c":1.37422},
{"i":455,"o":1.37422,"h":1.37545,"l":1.37400,"c":1.37530},
{"i":456,"o":1.37530,"h":1.37580,"l":1.37510,"c":1.37566},
{"i":457,"o":1.37566,"h":1.37620,"l":1.37550,"c":1.37601},
{"i":458,"o":1.37601,"h":1.37780,"l":1.37590,"c":1.37756},
{"i":459,"o":1.37756,"h":1.37876,"l":1.37740,"c":1.37780},
{"i":460,"o":1.37786,"h":1.37800,"l":1.37720,"c":1.37739},
{"i":461,"o":1.37739,"h":1.37800,"l":1.37720,"c":1.37786},
{"i":462,"o":1.37780,"h":1.37790,"l":1.37660,"c":1.37679},
{"i":463,"o":1.37703,"h":1.37720,"l":1.37640,"c":1.37679},
{"i":464,"o":1.37655,"h":1.37720,"l":1.37640,"c":1.37709},
{"i":465,"o":1.37703,"h":1.37730,"l":1.37690,"c":1.37715},
{"i":466,"o":1.37706,"h":1.37743,"l":1.37693,"c":1.37725}
]
},
"layer":[
{"data":{"name":"candles"},
 "mark":{"type":"rule","opacity":0},
 "encoding":{
  "x":{"field":"i","type":"quantitative","scale":{"domain":[-0.1,935.15],"nice":false,"zero":false},
   "axis":{"values":[0,16,32,48,64,80,96,112,128,144,160,176,192,208,224,240,256,272,288,304,320,336,352,368,384,400,416,432,448,464,480,496,512,528,544,560,576,592,608,624,640,656,672,688,704,720,736,752,768,784,800,816,832,848,864,880,896,912,928],
    "labelExpr":"(datum.value % 32 == 0 && datum.value <= 448) ? ['21 Sep 2022','21 Sep 18:30','22 Sep 02:30','22 Sep 10:30','22 Sep 18:30','23 Sep 02:30','23 Sep 10:30','23 Sep 18:30','26 Sep 02:30','26 Sep 10:30','26 Sep 18:30','27 Sep 02:30','27 Sep 10:30','27 Sep 18:30','28 Sep 02:30'][datum.value / 32] : ''",
    "title":null,"grid":true,"gridColor":"#c4c4c4","gridDash":[4,3],"gridWidth":1,"ticks":false,"domain":true,"domainColor":"#000000","domainWidth":1,
    "labelAlign":"left","labelBaseline":"top","labelPadding":8,"labelFont":"Liberation Sans","labelFontSize":18.5,"labelColor":"#000000","labelOverlap":false,"labelFlush":false,"labelBound":false,"zindex":0}},
  "y":{"field":"l","type":"quantitative","scale":{"domain":[1.32386,1.39388],"nice":false,"zero":false},
   "axis":{"orient":"right","values":[1.32515,1.32745,1.3298,1.33215,1.33445,1.3368,1.3391,1.34145,1.34375,1.3461,1.3484,1.35075,1.35305,1.3554,1.35775,1.36005,1.3624,1.3647,1.367,1.36935,1.3717,1.374,1.3763,1.37865,1.381,1.38335,1.38565,1.388,1.3903,1.39265],
    "format":".5f","title":null,"grid":true,"gridColor":"#c4c4c4","gridDash":[4,3],"gridWidth":1,"ticks":true,"tickSize":5,"tickColor":"#000000","domain":true,"domainColor":"#000000","domainWidth":1,
    "labelPadding":5,"labelFont":"Liberation Sans","labelFontSize":18,"labelColor":"#000000","labelOverlap":false,"labelBound":false,"labelFlush":false,"zindex":0}},
  "y2":{"field":"h"}
 }},
{"data":{"name":"levels"},
 "mark":{"type":"rule"},
 "encoding":{
  "y":{"field":"p","type":"quantitative","title":null},
  "stroke":{"field":"band","type":"nominal","scale":{"domain":["target","outer2","outer1","limit","last","weak","reverse","mid","pivot"],"range":["#c81e1e","#b3228c","#ff00ff","#1e90ff","#b4b4b4","#ff8c00","#ff4500","#556b2f","#1e90ff"]},"legend":null},
  "strokeDash":{"field":"band","type":"nominal","scale":{"domain":["target","outer2","outer1","limit","last","weak","reverse","mid","pivot"],"range":[[1,0],[14,5,3,5],[10,4,3,4,3,4],[1,0],[1,0],[12,4,3,4],[14,6],[10,4,3,4,3,4],[16,6,4,6]]},"legend":null},
  "strokeWidth":{"condition":{"test":"datum.band == 'limit' && datum.p < 1.37","value":3},"value":1}
 }},
{"data":{"name":"levels"},
 "transform":[{"filter":"datum.band == 'target'"}],
 "mark":{"type":"point","shape":"square","filled":false,"size":16,"strokeWidth":1,"color":"#c81e1e","opacity":1},
 "encoding":{
  "x":{"datum":0.5,"type":"quantitative","title":null},
  "y":{"field":"p","type":"quantitative","title":null}
 }},
{"data":{"name":"levels"},
 "transform":[{"filter":"datum.band == 'target'"}],
 "mark":{"type":"point","shape":"square","filled":false,"size":16,"strokeWidth":1,"color":"#c81e1e","opacity":1},
 "encoding":{
  "x":{"datum":934.4,"type":"quantitative","title":null},
  "y":{"field":"p","type":"quantitative","title":null}
 }},
{"data":{"name":"levels"},
 "transform":[{"filter":"datum.label != ''"}],
 "mark":{"type":"text","align":"center","baseline":"middle","dy":12,"fontSize":20.5,"font":"Liberation Sans"},
 "encoding":{
  "x":{"datum":440.4,"type":"quantitative","title":null},
  "y":{"field":"p","type":"quantitative","title":null},
  "text":{"field":"label","type":"nominal"},
  "fill":{"field":"band","type":"nominal","scale":{"domain":["target","outer2","outer1","limit","last","weak","reverse","mid","pivot"],"range":["#ff0000","#b3228c","#ff00ff","#1e90ff","#000000","#ff8c00","#ff4500","#556b2f","#1e90ff"]},"legend":null}
 }},
{"data":{"name":"candles"},
 "mark":{"type":"rule","color":"#000000","strokeWidth":1},
 "encoding":{
  "x":{"field":"i","type":"quantitative","title":null},
  "y":{"field":"l","type":"quantitative","title":null},
  "y2":{"field":"h"}
 }},
{"data":{"name":"candles"},
 "mark":{"type":"bar","width":2,"orient":"vertical","stroke":"#000000","strokeWidth":1},
 "encoding":{
  "x":{"field":"i","type":"quantitative","title":null},
  "y":{"field":"o","type":"quantitative","title":null},
  "y2":{"field":"c"},
  "fill":{"condition":{"test":"datum.c >= datum.o","value":"#ffffff"},"value":"#000000"}
 }},
{"data":{"name":"trend"},
 "mark":{"type":"line","strokeWidth":7,"strokeCap":"round","color":"#4259f0"},
 "encoding":{
  "x":{"field":"i","type":"quantitative","title":null},
  "y":{"field":"p","type":"quantitative","title":null},
  "detail":{"field":"seg","type":"nominal"}
 }},
{"data":{"name":"arrows"},
 "transform":[{"filter":"datum.seg == 'solid'"}],
 "mark":{"type":"line","strokeWidth":6,"strokeCap":"round","color":"#f04040"},
 "encoding":{
  "x":{"field":"i","type":"quantitative","title":null},
  "y":{"field":"p","type":"quantitative","title":null}
 }},
{"data":{"name":"arrows"},
 "transform":[{"filter":"datum.seg == 'dash'"}],
 "mark":{"type":"line","strokeWidth":6,"strokeCap":"butt","strokeDash":[26,12],"color":"#f04040"},
 "encoding":{
  "x":{"field":"i","type":"quantitative","title":null},
  "y":{"field":"p","type":"quantitative","title":null}
 }},
{"data":{"name":"heads"},
 "transform":[{"filter":"datum.seg == 'solid'"}],
 "mark":{"type":"point","shape":"triangle-up","filled":true,"size":320,"angle":26.4,"color":"#f04040","opacity":1},
 "encoding":{
  "x":{"field":"i","type":"quantitative","title":null},
  "y":{"field":"p","type":"quantitative","title":null}
 }},
{"data":{"name":"heads"},
 "transform":[{"filter":"datum.seg == 'dash'"}],
 "mark":{"type":"point","shape":"triangle-up","filled":true,"size":320,"angle":24.5,"color":"#f04040","opacity":1},
 "encoding":{
  "x":{"field":"i","type":"quantitative","title":null},
  "y":{"field":"p","type":"quantitative","title":null}
 }},
{"data":{"name":"levels"},
 "mark":{"type":"tick","orient":"horizontal","size":80,"thickness":23,"opacity":1,"clip":false},
 "encoding":{
  "x":{"datum":945.65,"type":"quantitative","title":null},
  "y":{"field":"p","type":"quantitative","title":null},
  "fill":{"field":"band","type":"nominal","scale":{"domain":["target","outer2","outer1","limit","last","weak","reverse","mid","pivot"],"range":["#ff0000","#b3228c","#ff00ff","#1e90ff","#000000","#ff8c00","#ff4500","#556b2f","#1e90ff"]},"legend":null}
 }},
{"data":{"name":"levels"},
 "mark":{"type":"text","align":"center","baseline":"middle","fontSize":18,"font":"Liberation Sans","color":"#ffffff","clip":false},
 "encoding":{
  "x":{"datum":945.65,"type":"quantitative","title":null},
  "y":{"field":"p","type":"quantitative","title":null},
  "text":{"field":"p","type":"quantitative","format":".5f"}
 }},
{"data":{"name":"header"},
 "mark":{"type":"point","shape":"triangle-down","filled":true,"size":110,"color":"#000000","opacity":1},
 "encoding":{
  "x":{"field":"ti","type":"quantitative","title":null},
  "y":{"field":"p","type":"quantitative","title":null}
 }},
{"data":{"name":"header"},
 "mark":{"type":"text","align":"left","baseline":"middle","fontSize":18,"font":"Liberation Sans","color":"#000000"},
 "encoding":{
  "x":{"field":"i","type":"quantitative","title":null},
  "y":{"field":"p","type":"quantitative","title":null},
  "text":{"field":"label","type":"nominal"}
 }}
]
}
